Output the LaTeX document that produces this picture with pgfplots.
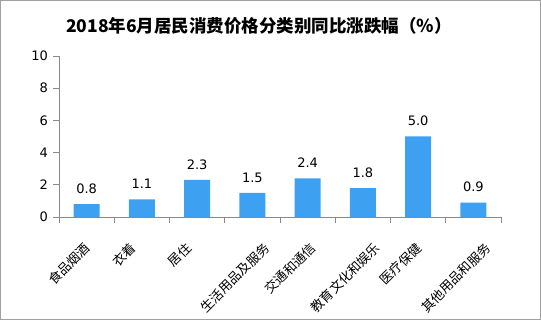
\documentclass[border=0pt]{standalone}
\usepackage{fontspec}
\setmainfont{DejaVu Sans}
\newfontfamily\cjk{Noto Sans CJK SC}
\usepackage{graphicx}
\usepackage{pgfplots}
\pgfplotsset{compat=1.18}
\definecolor{barblue}{RGB}{62,160,240}
\definecolor{axgray}{RGB}{137,137,137}
\newcommand{\rl}[1]{\rotatebox{45}{#1}}
\begin{document}
\begin{tikzpicture}
\path[use as bounding box] (0pt,0pt) rectangle (541pt,-320pt);
\draw[axgray!80, line width=1pt] (0.5pt,-0.5pt) rectangle (540.5pt,-319.5pt);
\node[font=\cjk\bfseries\fontsize{17.5}{19}\selectfont] at (259pt,-26pt) {2018年6月居民消费价格分类别同比涨跌幅（％）};
\begin{axis}[at={(59pt,-217pt)}, anchor=south west, scale only axis,
  width=442pt, height=161pt,
  xmin=-0.5, xmax=7.5, ymin=0, ymax=10,
  axis x line*=bottom, axis y line*=left,
  axis line style={axgray, line width=0.8pt},
  ytick={0,2,...,10},
  xtick={0,...,7},
  xticklabels={\rl{食品烟酒},\rl{衣着},\rl{居住},\rl{生活用品及服务},\rl{交通和通信},\rl{教育文化和娱乐},\rl{医疗保健},\rl{其他用品和服务}},
  minor xtick={-0.5,0.5,...,7.5},
  tick align=outside,
  major tick length=6pt, minor tick length=6pt,
  major x tick style={draw=none},
  minor x tick style={axgray, line width=0.8pt},
  ytick style={axgray, line width=0.8pt},
  xticklabel style={font=\cjk\fontsize{13}{13}\selectfont, anchor=north, inner sep=0pt, xshift=-17.5pt, yshift=-18pt},
  yticklabel style={font=\fontsize{13}{13}\selectfont, inner sep=2pt, xshift=-3pt},
  /pgf/number format/assume math mode=true,
  bar width=26pt,
  nodes near coords,
  every node near coord/.append style={font=\fontsize{13}{13}\selectfont, black, yshift=7pt,
    /pgf/number format/.cd, fixed, fixed zerofill, precision=1, assume math mode=true},
]
\addplot[ybar, fill=barblue, draw=none] coordinates {
(0,0.8) (1,1.1) (2,2.3) (3,1.5) (4,2.4) (5,1.8) (6,5.0) (7,0.9)};
\end{axis}
\end{tikzpicture}
\end{document}
